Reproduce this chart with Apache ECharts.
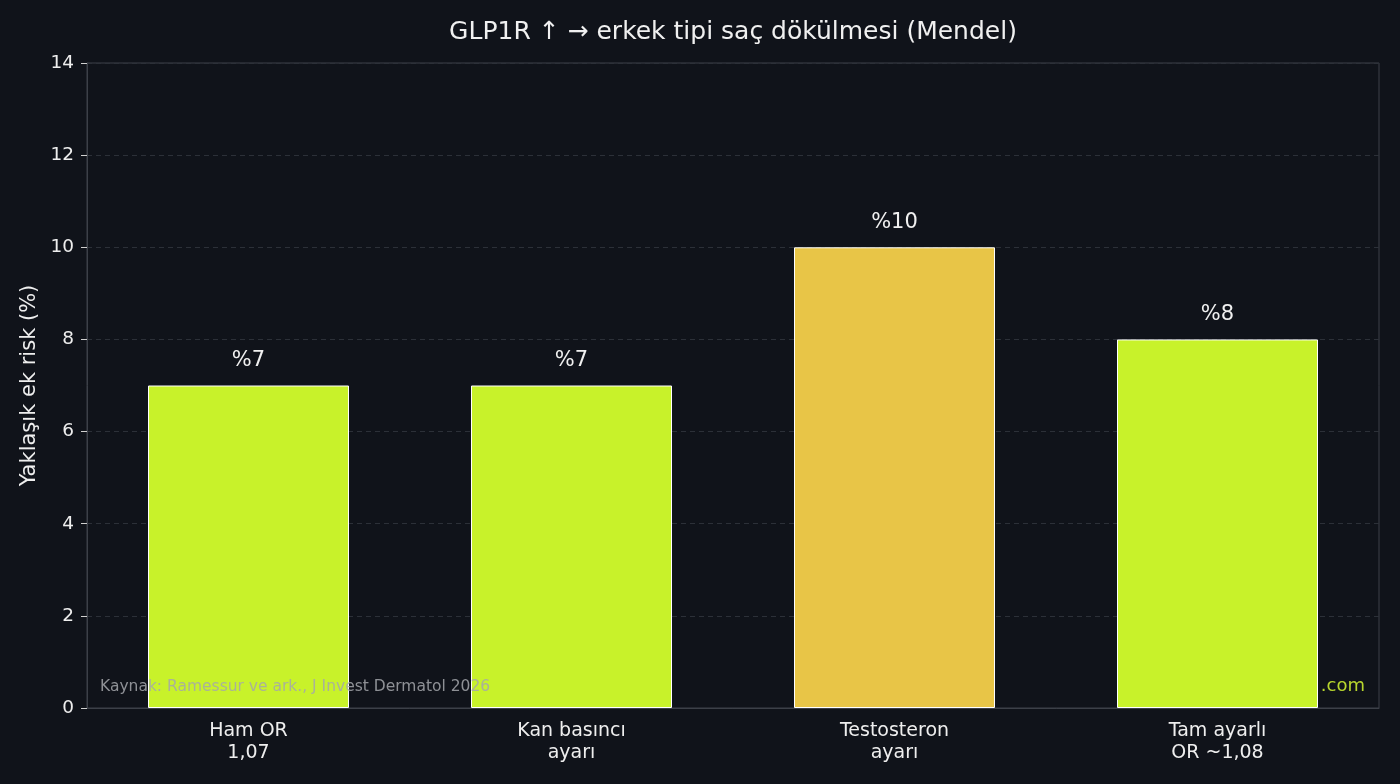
<!DOCTYPE html>
<html>
<head>
<meta charset="utf-8">
<script src="https://cdn.jsdelivr.net/npm/echarts@6/dist/echarts.min.js"></script>
<style>
  html, body { margin: 0; padding: 0; background: #10131a; }
  #chart { width: 1400px; height: 784px; }
</style>
</head>
<body>
<div id="chart"></div>
<script>
var categories = ['Ham OR\n1,07', 'Kan basıncı\nayarı', 'Testosteron\nayarı', 'Tam ayarlı\nOR ~1,08'];
var riskValues = [7, 7, 10, 8];
var barColors = ['#c8f22a', '#c8f22a', '#e8c547', '#c8f22a'];
var valueLabels = ['%7', '%7', '%10', '%8'];

var chartDom = document.getElementById('chart');
var myChart = echarts.init(chartDom);
var font = 'DejaVu Sans';

const option = {
    backgroundColor: '#10131a',
    animation: false,
    grid: {
        left: 87, right: 21, top: 63, bottom: 76,
        show: true, borderColor: '#3c4048', borderWidth: 1, backgroundColor: 'transparent'
    },
    graphic: [
        {
            // title centred over the plot area
            type: 'text', x: 733, y: 20, z: 100,
            style: {
                text: 'GLP1R ↑ → erkek tipi saç dökülmesi (Mendel)', textAlign: 'center',
                fill: '#f0f0f0', fontSize: 25, fontFamily: font
            }
        },
        {
            type: 'text', left: 100, top: 679, z: 100,
            style: { text: 'Kaynak: Ramessur ve ark., J Invest Dermatol 2026', fill: 'rgba(165,167,172,0.85)', fontSize: 15.5, fontFamily: font }
        },
        {
            type: 'text', right: 35, top: 677, z: -1, zlevel: 0,
            style: { text: '.com', fill: '#b8d62e', fontSize: 18, fontFamily: font }
        }
    ],
    xAxis: {
        type: 'category',
        data: categories,
        axisLine: { lineStyle: { color: '#3c4048' } },
        axisTick: { alignWithLabel: true, length: 5, lineStyle: { color: '#d0d0d0' } },
        axisLabel: { color: '#eeeeee', fontSize: 19, fontFamily: font, margin: 12, lineHeight: 22 }
    },
    yAxis: {
        type: 'value',
        min: 0, max: 14, interval: 2,
        name: 'Yaklaşık ek risk (%)',
        nameLocation: 'middle',
        nameGap: 46,
        nameTextStyle: { color: '#eeeeee', fontSize: 21, fontFamily: font },
        axisLine: { show: true, lineStyle: { color: '#3c4048' } },
        axisTick: { show: true, length: 6, lineStyle: { color: '#d0d0d0' } },
        axisLabel: { color: '#eeeeee', fontSize: 18.5, fontFamily: font, margin: 13 },
        splitLine: { lineStyle: { color: '#2c3038', type: [5, 4] } }
    },
    series: [
        {
            type: 'bar',
            barWidth: 201,
            z: 5,
            data: riskValues.map(function (v, i) {
                return {
                    value: v,
                    itemStyle: { color: barColors[i], borderColor: '#ffffff', borderWidth: 1 },
                    label: { formatter: valueLabels[i] }
                };
            }),
            label: {
                show: true,
                position: 'top',
                distance: 14,
                color: '#f0f0f0',
                fontSize: 21,
                fontFamily: font
            }
        }
    ]
};
myChart.setOption(option);
</script>
</body>
</html>
